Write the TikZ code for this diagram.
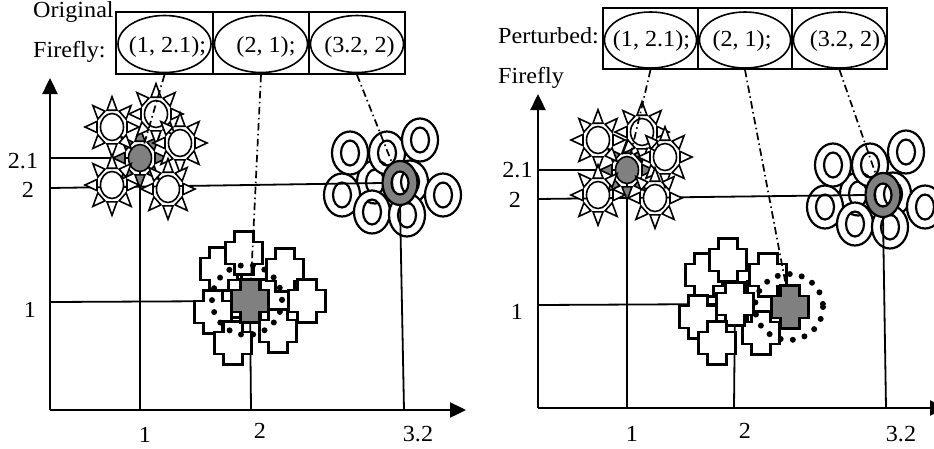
\documentclass[tikz,border=0pt]{standalone}
\usepackage{fontspec}
\setmainfont{Liberation Serif}[FakeStretch=1.05]
\usetikzlibrary{arrows.meta,shapes.geometric}
\definecolor{ffgray}{RGB}{128,128,128}
\begin{document}
\begin{tikzpicture}[x=1pt,y=-1pt,
  txt/.style={font=\fontsize{23}{27}\selectfont, inner sep=0pt},
  cellbox/.style={draw, line width=1.7pt, minimum width=#1, minimum height=62pt, inner sep=0pt},
  oval/.style={ellipse, draw, line width=1.6pt, minimum width=93pt, minimum height=57pt, inner sep=0pt},
  axis/.style={line width=2.4pt, -{Triangle[length=16pt,width=15pt]}},
  tick/.style={line width=1.8pt},
  link/.style={line width=1.7pt, dash pattern=on 7.5pt off 3.5pt on 1.5pt off 3.5pt},
  halo/.style={line width=6pt, line cap=round, dash pattern=on 0pt off 12.2pt},
  core/.style={ellipse, draw, line width=1.6pt, minimum width=23pt, minimum height=27pt, inner sep=0pt},
  rim/.style={ellipse, minimum width=35pt, minimum height=44pt, inner sep=0pt},
  crossbox/.style={rectangle, minimum width=37pt, minimum height=43pt, inner sep=0pt},
  pics/sun/.style={code={
    \begin{scope}[yscale=1.12]
      \foreach \a in {0,45,...,315}
        \draw[line width=1.6pt, fill=#1, rotate=\a] (15,-5) -- (27,0) -- (15,5) -- cycle;
    \end{scope}
    \node[core, fill=#1] (-core) at (0,0) {};
  }},
  pics/ring/.style={code={
    \draw[line width=2.2pt, fill=#1, even odd rule]
      (0,0) ellipse [x radius=18, y radius=21.5]
      (0,0) ellipse [x radius=9, y radius=12.5];
  }},
  pics/hubring/.style={code={
    \draw[line width=2.2pt, fill=ffgray, even odd rule]
      (0,0) ellipse [x radius=17.5, y radius=22]
      (0,0) ellipse [x radius=8.5, y radius=11.5];
  }},
  pics/cross/.style={code={
    \draw[line width=2.2pt, fill=#1, line join=miter]
      (-9.5,-21.5) -- (9.5,-21.5) -- (9.5,-11) -- (18.5,-11) -- (18.5,11)
      -- (9.5,11) -- (9.5,21.5) -- (-9.5,21.5) -- (-9.5,11) -- (-18.5,11)
      -- (-18.5,-11) -- (-9.5,-11) -- cycle;
  }}
]
\useasboundingbox (0,0) rectangle (934,448);
\fill[white] (0,0) rectangle (934,448);

%% ---------------- original swarm ----------------
% header table
\node[cellbox=97pt] (boxL1) at (164.5,43) {};
\node[cellbox=96pt] (boxL2) at (261,43) {};
\node[cellbox=96pt] (boxL3) at (357,43) {};
\node[oval] (ovL1) at (164.5,44) {};
\node[oval] (ovL2) at (261,44) {};
\node[oval] (ovL3) at (357,44) {};
\node[txt] (vL1) at (167.5,47) {(1, 2.1);};
\node[txt] (vL2) at (266,47) {(2, 1);};
\node[txt] (vL3) at (359.5,47) {(3.2, 2)};
\node[txt, anchor=base west] (hdL1) at (33,17) {Original};
\node[txt, anchor=base west] (hdL2) at (33,57) {Firefly:};

% axes
\coordinate (oL) at (50,410);
\coordinate (yTipL) at (50,78);
\coordinate (xTipL) at (466,410);
\draw[axis] (oL) -- (yTipL);
\draw[axis] (oL) -- (xTipL);

% axis labels
\node[txt] (lyL21) at (23,161) {2.1};
\node[txt] (lyL2) at (28,190) {2};
\node[txt] (lyL1) at (30,310) {1};
\node[txt] (lxL1) at (145,435) {1};
\node[txt] (lxL2) at (260,431) {2};
\node[txt] (lxL32) at (418,434) {3.2};

% ring cluster
\foreach \p in {(375,182),(410,182),(350,153),(387,153),(420,140),(342,195),(443,195),(372,212),(407,215)}
  \pic at \p {ring=white};
\node[rim] (gringL) at (400,183) {};

% guide lines to the best members
\coordinate (csunL) at (140,158);
\coordinate (ccrossL) at (250,301);
\coordinate (a21L) at (50,158);
\coordinate (a2L) at (50,188);
\coordinate (a1L) at (50,302);
\coordinate (b1L) at (140,410);
\coordinate (b2L) at (251,410);
\coordinate (b32L) at (404,410);
\draw[tick] (a21L) -- (csunL);
\draw[tick] (a2L) -- (gringL.west);
\draw[tick] (a1L) -- (ccrossL);
\draw[tick] (csunL) -- (b1L);
\draw[tick] (ccrossL) -- (b2L);
\draw[tick] (gringL.south) -- (b32L);
\pic at (gringL) {hubring};

% sun cluster
\pic (gsunL) at (csunL) {sun=ffgray};
\foreach \p in {(112,127),(156,114),(180,143),(112,185),(168,189)}
  \pic at \p {sun=white};

% cross cluster
\foreach \p in {(232,296),(270,301),(219,269),(285,270),(244,253),(307,301),(213,312),(278,331),(233,343)}
  \pic at \p {cross=white};
\draw[halo] (247,300) circle [radius=35];
\pic at (ccrossL) {cross=ffgray};
\node[crossbox] (gcrossL) at (ccrossL) {};

% links from the table
\draw[link] (boxL1.south) -- (gsunL-core);
\draw[link] (boxL2.south) -- (gcrossL);
\draw[link] (boxL3.south) -- (gringL);

%% ---------------- perturbed swarm ----------------
% header table
\node[cellbox=95pt, minimum height=61pt] (boxR1) at (650.5,38.5) {};
\node[cellbox=94pt, minimum height=61pt] (boxR2) at (745,38.5) {};
\node[cellbox=95pt, minimum height=61pt] (boxR3) at (839.5,38.5) {};
\node[oval, minimum width=92pt, minimum height=56pt] (ovR1) at (650.5,40) {};
\node[oval, minimum width=91pt, minimum height=56pt] (ovR2) at (745,40) {};
\node[oval, minimum width=92pt, minimum height=56pt] (ovR3) at (839.5,40) {};
\node[txt] (vR1) at (651.5,41) {(1, 2.1);};
\node[txt] (vR2) at (742,41) {(2, 1);};
\node[txt] (vR3) at (845,41) {(3.2, 2)};
\node[txt, anchor=base west] (hdR1) at (498,43) {Perturbed:};
\node[txt, anchor=base west] (hdR2) at (498,83) {Firefly};

% axes
\coordinate (oR) at (538,408);
\coordinate (yTipR) at (538,94);
\coordinate (xTipR) at (946,408);
\draw[axis] (oR) -- (yTipR);
\draw[axis] (oR) -- (xTipR);

% axis labels
\node[txt] (lyR21) at (517.5,170) {2.1};
\node[txt] (lyR2) at (515,200) {2};
\node[txt] (lyR1) at (517,312) {1};
\node[txt] (lxR1) at (632,434) {1};
\node[txt] (lxR2) at (745,431) {2};
\node[txt] (lxR32) at (901,434) {3.2};

% ring cluster
\foreach \p in {(858,194),(893,194),(833,165),(870,165),(906,152),(825,207),(925,207),(855,224),(890,227)}
  \pic at \p {ring=white};
\node[rim] (gringR) at (883,195) {};

% guide lines to the original positions
\coordinate (csunR) at (627,170);
\coordinate (ccrossR) at (790,307);
\coordinate (wcrossR) at (735,304);
\coordinate (a21R) at (538,170);
\coordinate (a2R) at (538,199);
\coordinate (a1R) at (538,305);
\coordinate (b1R) at (627,408);
\coordinate (b2R) at (734,408);
\coordinate (b32R) at (886,408);
\draw[tick] (a21R) -- (csunR);
\draw[tick] (a2R) -- (gringR.west);
\draw[tick] (a1R) -- (wcrossR);
\draw[tick] (csunR) -- (b1R);
\draw[tick] (wcrossR) -- (b2R);
\draw[tick] (gringR.south) -- (b32R);
\pic at (gringR) {hubring};

% sun cluster
\pic (gsunR) at (csunR) {sun=ffgray};
\foreach \p in {(598,140),(642,132),(665,157),(598,195),(655,198)}
  \pic at \p {sun=white};

% cross cluster
\foreach \p in {(757,303),(704,275),(728,260),(768,275),(698,317),(761,333)}
  \pic at \p {cross=white};
\pic at (wcrossR) {cross=white};
\pic at (717,343) {cross=white};
\draw[halo] (789,307) ellipse [x radius=34, y radius=33];
\pic at (ccrossR) {cross=ffgray};
\node[crossbox] (gcrossR) at (ccrossR) {};

% links from the table
\draw[link] (boxR1.south) -- (gsunR-core);
\draw[link] (boxR2.south) -- (gcrossR);
\draw[link] (boxR3.south) -- (gringR);
\end{tikzpicture}
\end{document}
